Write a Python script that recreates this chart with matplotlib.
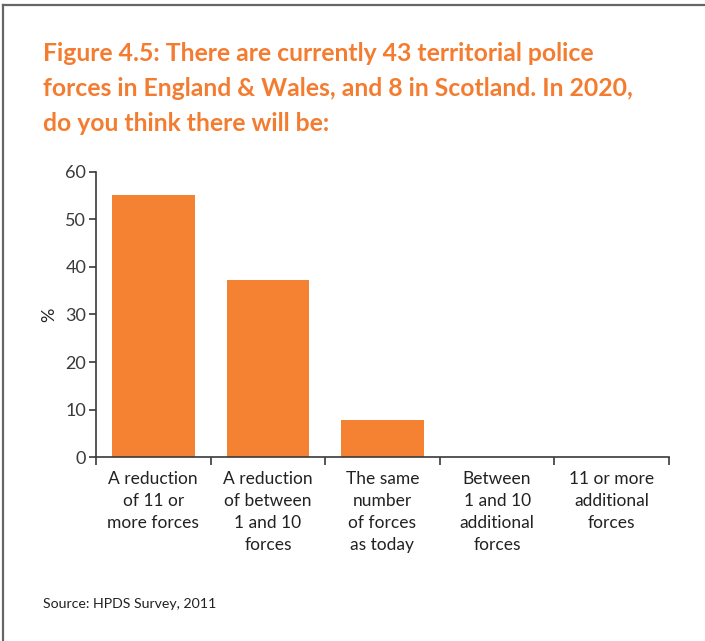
import matplotlib.pyplot as plt
from matplotlib.lines import Line2D

categories = [
    "A reduction\nof 11 or\nmore forces",
    "A reduction\nof between\n1 and 10\nforces",
    "The same\nnumber\nof forces\nas today",
    "Between\n1 and 10\nadditional\nforces",
    "11 or more\nadditional\nforces",
]
percent = [55, 37.2, 7.8, 0, 0]
y_ticks = [0, 10, 20, 30, 40, 50, 60]

title = ("Figure 4.5: There are currently 43 territorial police\n"
         "forces in England & Wales, and 8 in Scotland. In 2020,\n"
         "do you think there will be:")
source = "Source: HPDS Survey, 2011"

orange = "#F58233"
title_orange = "#F47C30"
axis_grey = "#3a3a3a"

plt.rcParams['font.family'] = ['Lato', 'DejaVu Sans']

W, H = 705, 641
fig = plt.figure(figsize=(W / 100, H / 100), dpi=100)

# frame around the panel (left and top edges are visible)
fig.add_artist(Line2D([3 / W, 3 / W], [0, 1 - 5 / H], transform=fig.transFigure,
                      color="#666666", lw=1.6))
fig.add_artist(Line2D([3 / W, 1], [1 - 5 / H, 1 - 5 / H], transform=fig.transFigure,
                      color="#666666", lw=1.6))

fig.text(43 / W, 1 - 42 / H, title, ha="left", va="top", color=title_orange,
         fontsize=17.8, fontweight="bold", linespacing=1.62)

ax = fig.add_axes([96 / W, 1 - 457.3 / H, (669 - 96) / W, (457.3 - 171.7) / H])
x = list(range(len(categories)))
ax.bar(x, percent, width=0.72, color=orange)

ax.set_xlim(-0.5, len(categories) - 0.5)
ax.set_ylim(0, 60)
ax.set_yticks(y_ticks)
ax.tick_params(axis="y", direction="out", length=5, width=1.2, colors=axis_grey,
               labelsize=13, pad=2)

ax.set_xticks(x)
ax.set_xticklabels(categories, fontsize=12.5, color="#222222", linespacing=1.45)
ax.tick_params(axis="x", which="major", length=0, pad=10)
ax.set_xticks([i - 0.5 for i in range(len(categories) + 1)], minor=True)
ax.tick_params(axis="x", which="minor", direction="out", length=6, width=1.2,
               colors=axis_grey)

for side in ["top", "right"]:
    ax.spines[side].set_visible(False)
for side in ["left", "bottom"]:
    ax.spines[side].set_color(axis_grey)
    ax.spines[side].set_linewidth(1.2)

ax.set_ylabel("%", fontsize=13, color="#222222", labelpad=6)

fig.text(43 / W, 1 - 604 / H, source, ha="left", va="center", fontsize=10.2,
         color="#222222")

fig.savefig("out.png", dpi=100)
